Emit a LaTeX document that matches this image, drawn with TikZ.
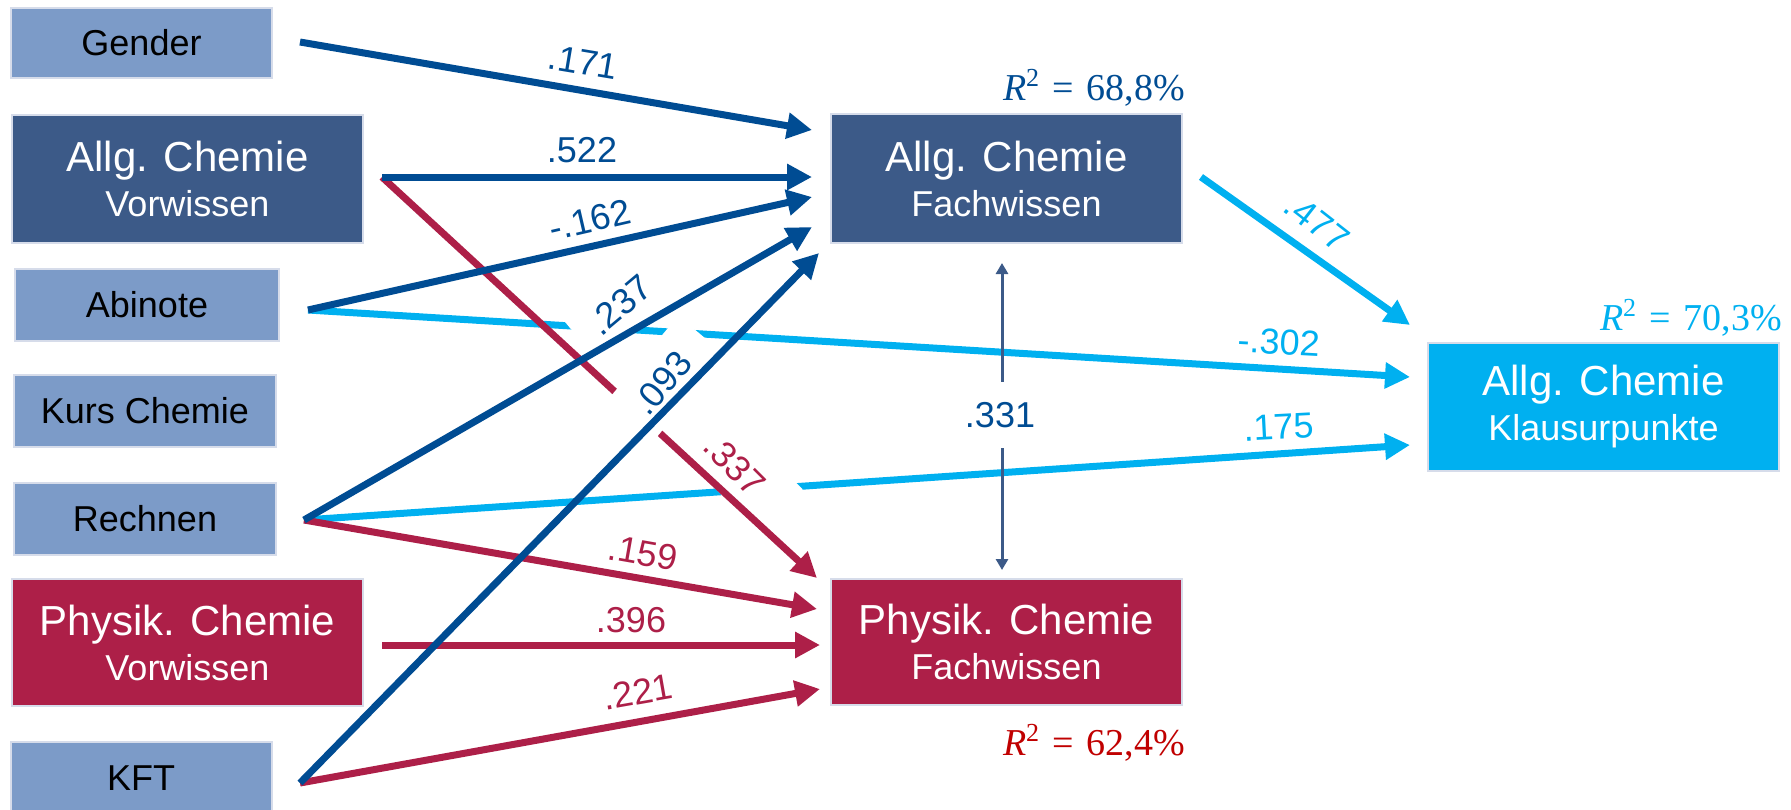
\documentclass[tikz,border=0pt]{standalone}
\usepackage{fontspec}
\setmainfont{Liberation Sans}
\newfontfamily\rsqfont{Liberation Serif}
\usetikzlibrary{arrows.meta}

\definecolor{pathblue}{RGB}{0,76,147}
\definecolor{skyblue}{RGB}{0,176,240}
\definecolor{wine}{RGB}{173,31,72}
\definecolor{boxdark}{RGB}{60,90,136}
\definecolor{boxlight}{RGB}{124,155,200}
\definecolor{boxedge}{RGB}{214,220,234}
\definecolor{rsqred}{RGB}{192,0,0}

% explained variance, R^2 = value
\newcommand\rsqtext[1]{\textit{R}\raisebox{14pt}{\fontsize{26}{26}\selectfont 2}\hspace{13pt}=\hspace{13pt}#1\%}

\begin{document}
\begin{tikzpicture}[x=1pt,y=-1pt,
  box/.style={draw=boxedge, line width=2pt, align=center, inner sep=0pt},
  lightbox/.style={box, fill=boxlight, text=black, font=\fontsize{36}{45}\selectfont},
  darkbox/.style={box, fill=boxdark, text=white, font=\fontsize{36}{45}\selectfont},
  winebox/.style={box, fill=wine, text=white, font=\fontsize{36}{45}\selectfont},
  skybox/.style={box, fill=skyblue, text=white, font=\fontsize{36}{45}\selectfont},
  effect/.style={line width=7pt, -{Triangle[length=25pt,width=25pt]}},
  bluearrow/.style={effect, draw=pathblue},
  winearrow/.style={effect, draw=wine},
  skyarrow/.style={effect, draw=skyblue},
  corr/.style={draw=boxdark, line width=3pt,
    {Triangle[length=11pt,width=12pt]}-{Triangle[length=11pt,width=12pt]}},
  coef/.style={font=\fontsize{36}{36}\selectfont, inner sep=2pt},
  rsq/.style={font=\rsqfont\fontsize{38}{40}\selectfont, anchor=base east, inner sep=0pt}
]
\useasboundingbox (0,0) rectangle (1791,809);

% ---- predictor boxes (left column) ----
\node[lightbox, minimum width=261pt, minimum height=70pt]  (gender)  at (141.5,43)  {Gender};
\node[darkbox,  minimum width=351pt, minimum height=128pt] (allgV)   at (187.5,179) {{\fontsize{42}{45}\selectfont Allg. Chemie}\\Vorwissen};
\node[lightbox, minimum width=264pt, minimum height=72pt]  (abinote) at (147,305)   {Abinote};
\node[lightbox, minimum width=262pt, minimum height=72pt]  (kurs)    at (145,411)   {Kurs Chemie};
\node[lightbox, minimum width=262pt, minimum height=72pt]  (rechnen) at (145,519)   {Rechnen};
\node[winebox,  minimum width=351pt, minimum height=127pt] (physV)   at (187.5,642.5) {{\fontsize{42}{45}\selectfont Physik. Chemie}\\Vorwissen};
\node[lightbox, minimum width=261pt, minimum height=72pt]  (kft)     at (141,778)   {KFT};

% ---- outcome boxes ----
\node[darkbox,  minimum width=351pt, minimum height=129pt] (allgF)   at (1006.5,178.5) {{\fontsize{42}{45}\selectfont Allg. Chemie}\\Fachwissen};
\node[winebox,  minimum width=351pt, minimum height=126pt] (physF)   at (1006.5,642)   {{\fontsize{42}{45}\selectfont Physik. Chemie}\\Fachwissen};
\node[skybox,   minimum width=351pt, minimum height=128pt] (klausur) at (1603.5,407)   {{\fontsize{42}{45}\selectfont Allg. Chemie}\\Klausurpunkte};

% ---- arrow start points ----
\coordinate (gS) at (300,42);
\coordinate (avS) at (382,177);
\coordinate (abS) at (308,310);
\coordinate (reS) at (304,520);
\coordinate (pvS) at (382,645);
\coordinate (kfS) at (300,783);
\coordinate (afS) at (1201,177);

% ---- arrow end points ----
\coordinate (afA) at (812,130);
\coordinate (afB) at (812,177);
\coordinate (afC) at (812,197);
\coordinate (afD) at (812,227);
\coordinate (afE) at (819,253);
\coordinate (pfA) at (817,578);
\coordinate (pfB) at (817,609);
\coordinate (pfC) at (820,645);
\coordinate (pfD) at (820,689);
\coordinate (klA) at (1410,325);
\coordinate (klB) at (1410,377);
\coordinate (klC) at (1410,445);
\coordinate (cTop) at (1002,263);
\coordinate (cBot) at (1002,570);

% ---- paths into the exam score ----
\draw[skyarrow] (afS) -- (klA);
\draw[skyarrow] (abS) -- (klB);
\draw[skyarrow] (reS) -- (klC);

% labels with white ground, lying over the light blue paths
\node[coef, text=pathblue, fill=white, rotate=40, inner xsep=18pt, inner ysep=13pt] (l237) at (620,305) {.237};
\node[coef, text=wine, fill=white, rotate=-45, inner xsep=30pt, inner ysep=18pt] (l337) at (735,465) {.337};

% ---- paths into Physik. Chemie Fachwissen ----
\draw[winearrow] (avS) -- (pfA);
\draw[winearrow] (reS) -- (pfB);
\draw[winearrow] (pvS) -- (pfC);
\draw[winearrow] (kfS) -- (pfD);

\node[coef, text=pathblue, fill=white, rotate=50, inner xsep=27pt, inner ysep=18pt] (l093) at (662,383) {.093};

% ---- paths into Allg. Chemie Fachwissen ----
\draw[bluearrow] (gS) -- (afA);
\draw[bluearrow] (avS) -- (afB);
\draw[bluearrow] (abS) -- (afC);
\draw[bluearrow] (reS) -- (afD);
\draw[bluearrow] (kfS) -- (afE);

% ---- correlation of the two Fachwissen scores ----
\draw[corr] (cTop) -- (cBot);
\node[coef, text=pathblue, fill=white, inner xsep=6pt, inner ysep=20pt] (l331) at (1000,415) {.331};

% ---- remaining coefficients ----
\node[coef, text=pathblue, rotate=-9.5] (l171) at (583,62)  {.171};
\node[coef, text=pathblue]              (l522) at (582,150) {.522};
\node[coef, text=pathblue, rotate=13]   (l162) at (590,220) {-.162};
\node[coef, text=wine, rotate=-10]      (l159) at (643,553) {.159};
\node[coef, text=wine]                  (l396) at (631,620) {.396};
\node[coef, text=wine, rotate=10]       (l221) at (638,692) {.221};
\node[coef, text=skyblue, rotate=-38]   (l477) at (1317,222) {.477};
\node[coef, text=skyblue, rotate=-3]    (l302) at (1279,342) {-.302};
\node[coef, text=skyblue, rotate=3]     (l175) at (1279,427) {.175};

% ---- explained variance ----
\node[rsq, text=pathblue] (rA) at (1185,100) {\rsqtext{68,8}};
\node[rsq, text=rsqred]   (rP) at (1185,755) {\rsqtext{62,4}};
\node[rsq, text=skyblue]  (rK) at (1782,330) {\rsqtext{70,3}};
\end{tikzpicture}
\end{document}
